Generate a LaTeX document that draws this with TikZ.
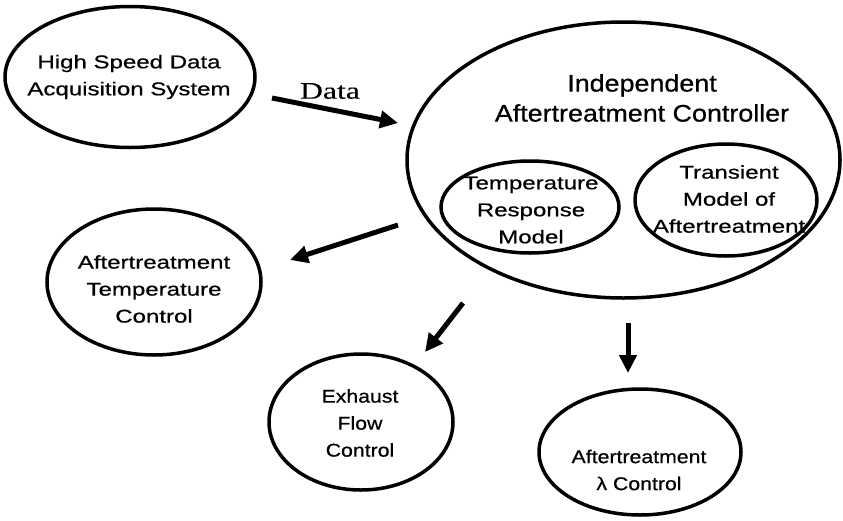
\documentclass[tikz,border=0pt]{standalone}
\usepackage{fontspec}
\usetikzlibrary{arrows.meta,shapes.geometric}
\newfontfamily\sansA{Liberation Sans}[FakeStretch=1.3,FakeBold=0.6]
\newfontfamily\sansT{Liberation Sans}[FakeStretch=1.12,FakeBold=0.6]
\newfontfamily\sansB{Liberation Sans}[FakeStretch=1.15,FakeBold=0.6]
\newfontfamily\serifD{Liberation Serif}[FakeStretch=1.34,FakeBold=0.4]
\tikzset{
  oval/.style={draw, ellipse, line width=3.5pt, inner sep=0pt},
  lbl/.style={align=center, inner sep=0pt, font=\sansA\fontsize{18.5}{27}\selectfont},
  lblT/.style={align=center, inner sep=0pt, font=\sansT\fontsize{24}{30}\selectfont},
  lblB/.style={align=center, inner sep=0pt, font=\sansB\fontsize{18.5}{27}\selectfont},
  lblD/.style={inner sep=0pt, font=\serifD\fontsize{23.7}{28}\selectfont},
  arr/.style={line width=5pt, -{Triangle[length=18pt,width=17pt]}},
}
\begin{document}
\begin{tikzpicture}[x=1pt,y=-1pt]
\useasboundingbox (0,0) rectangle (843,520);
% ellipses
\node[oval, minimum width=250pt, minimum height=141pt] (acq) at (130,77) {};
\node[oval, minimum width=433pt, minimum height=276pt] (ctrl) at (623.5,160) {};
\node[oval, minimum width=178pt, minimum height=92pt] (trm) at (530,207) {};
\node[oval, minimum width=182pt, minimum height=112pt] (tma) at (726,200) {};
\node[oval, minimum width=214pt, minimum height=146pt] (atc) at (154,282) {};
\node[oval, minimum width=184pt, minimum height=136pt] (efc) at (361,422) {};
\node[oval, minimum width=202pt, minimum height=126pt] (alc) at (640,452) {};
% texts
\node[lbl] (tacq) at (129,77) {High Speed Data\\Acquisition System};
\node[lblT] (tctrl) at (642,98) {Independent\\Aftertreatment Controller};
\node[lbl] (ttrm) at (531,210) {Temperature\\Response\\Model};
\node[lbl] (ttma) at (729,199) {Transient\\Model of\\Aftertreatment};
\node[lbl] (tatc) at (154,289) {Aftertreatment\\Temperature\\Control};
\node[lblB] (tefc) at (360,423) {Exhaust\\Flow\\Control};
\node[lblB] (talc) at (639,470) {Aftertreatment\\λ Control};
\node[lblD] (tdata) at (330,91) {Data};
% arrow end points
\coordinate (d1) at (272,98);  \coordinate (d2) at (398,123);
\coordinate (t1) at (398,225); \coordinate (t2) at (290,260);
\coordinate (e1) at (463,303); \coordinate (e2) at (425,352);
\coordinate (l1) at (628,323); \coordinate (l2) at (628,373);
\draw[arr] (d1) -- (d2);
\draw[arr] (t1) -- (t2);
\draw[arr] (e1) -- (e2);
\draw[arr] (l1) -- (l2);
\end{tikzpicture}
\end{document}
